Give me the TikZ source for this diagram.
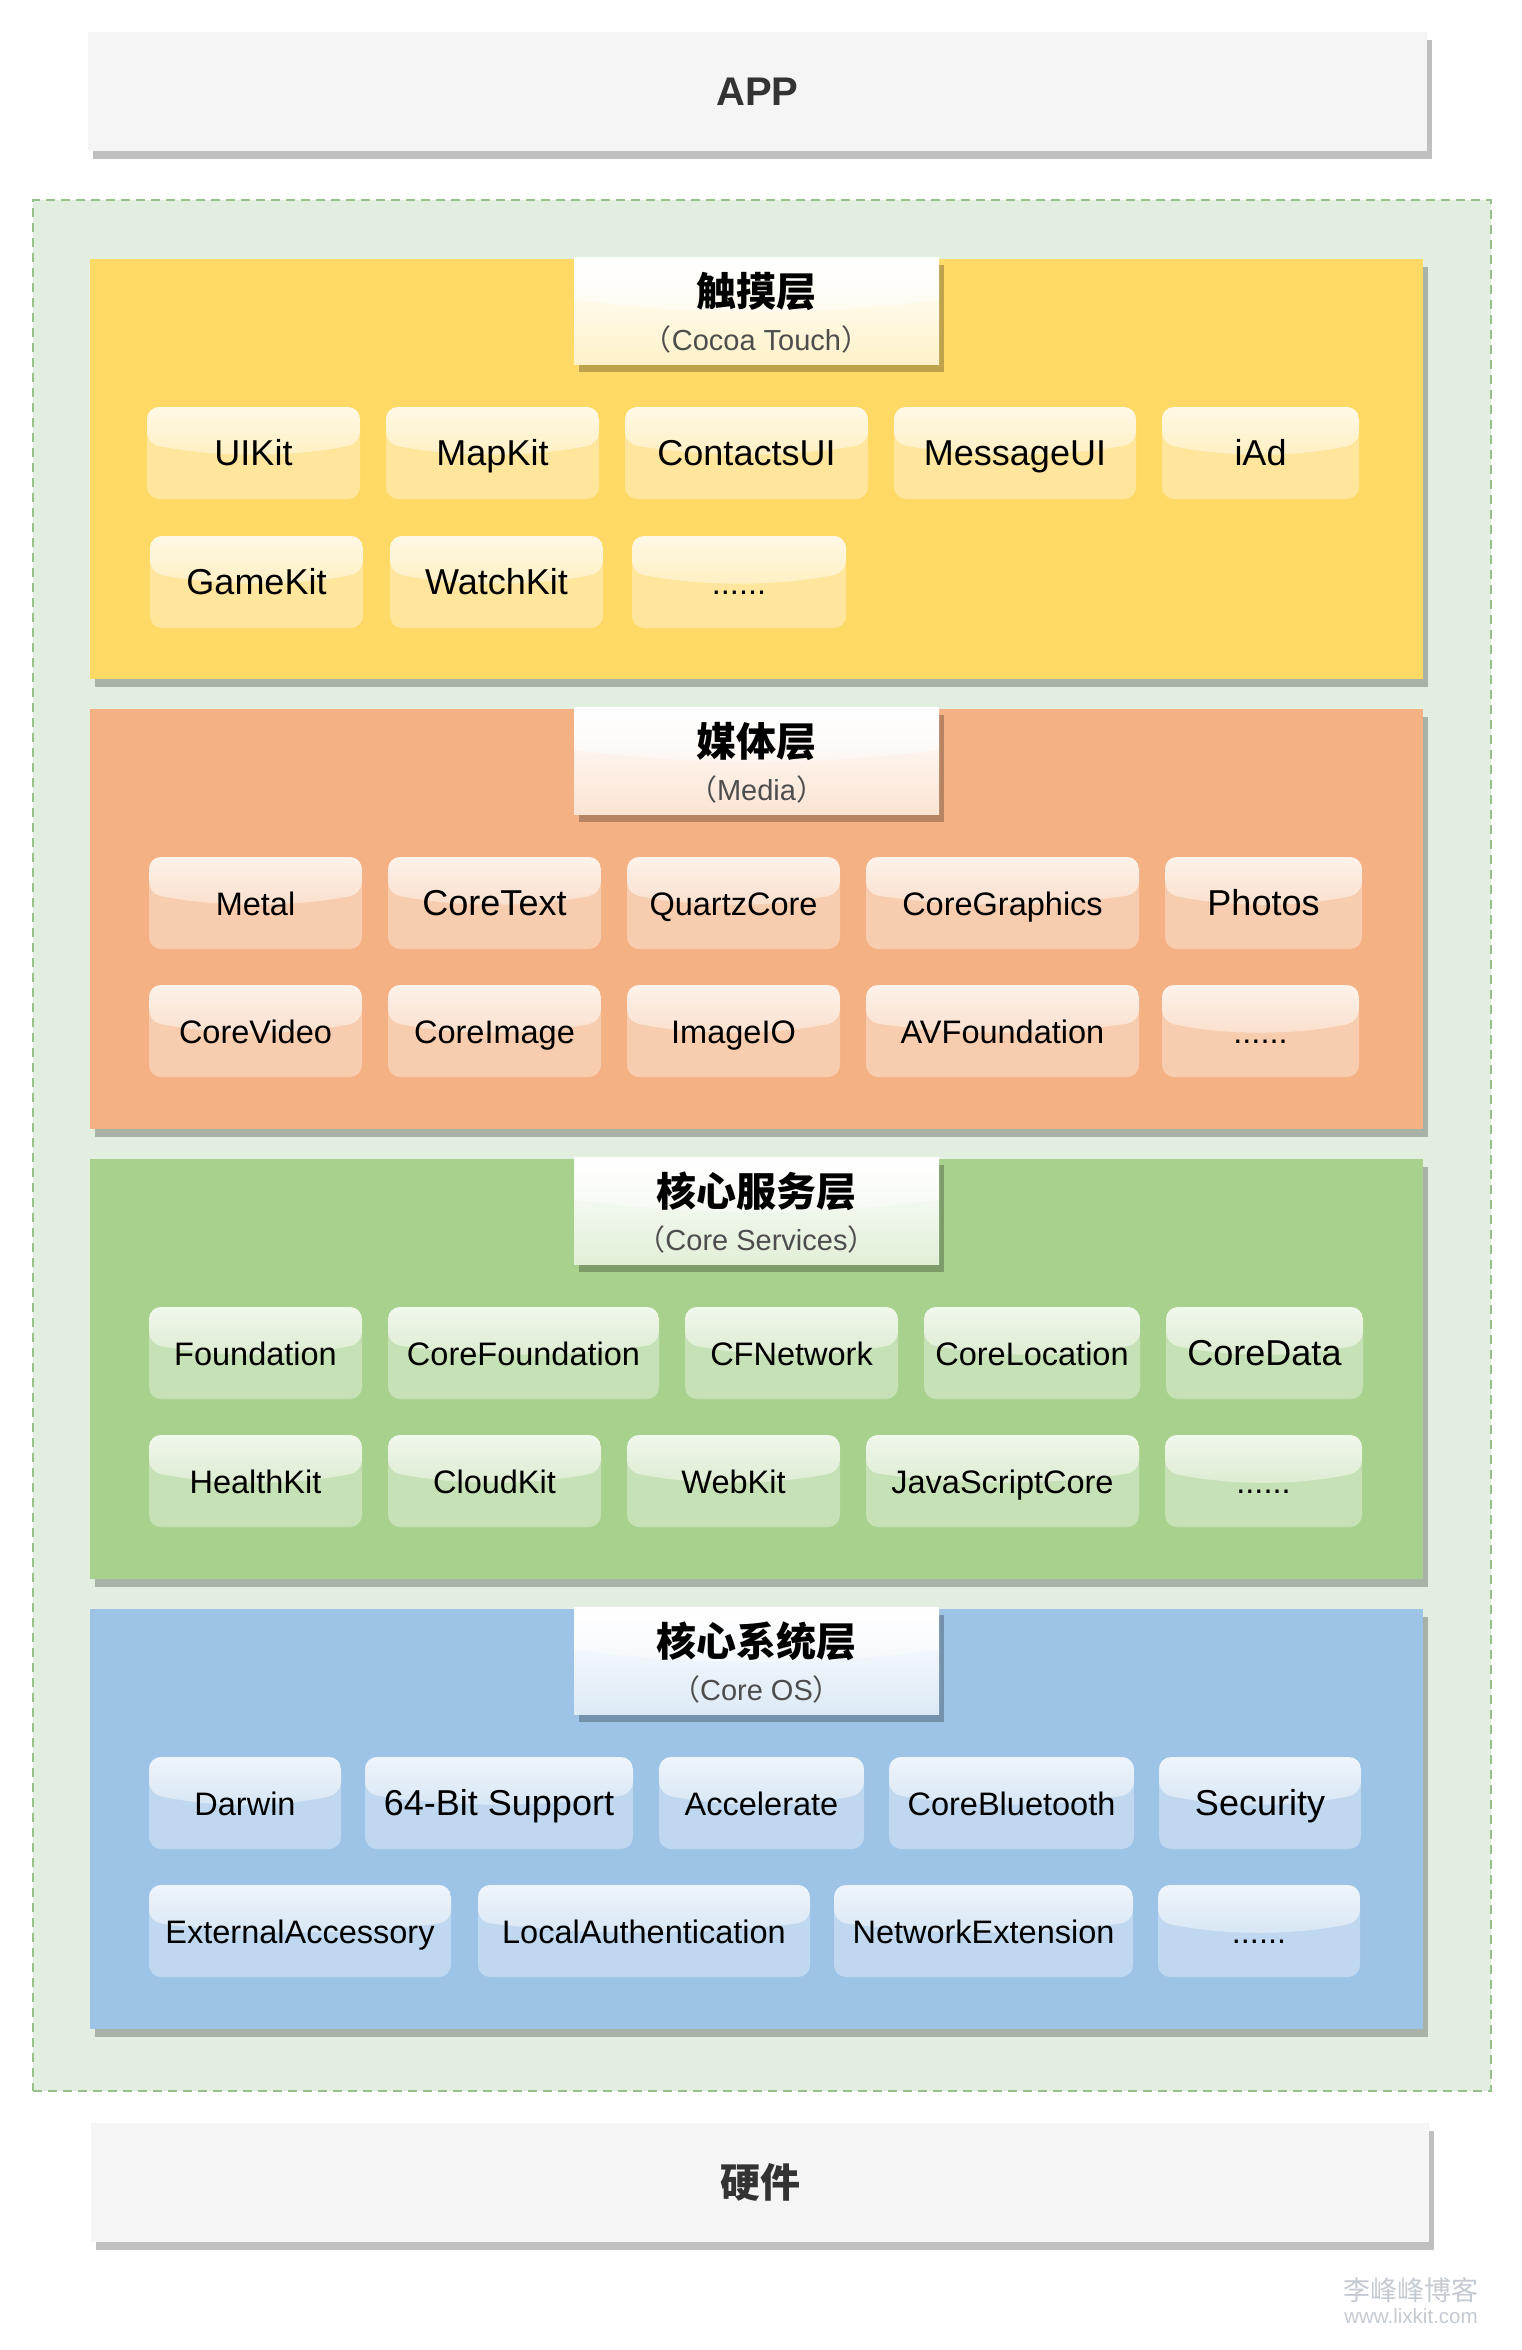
\documentclass[tikz,border=0pt]{standalone}
\usepackage{fontspec}
\setmainfont{Liberation Sans}
\newfontfamily\cjk{Noto Sans CJK SC}
\usepackage{tikz}
\usetikzlibrary{positioning,shadows,fadings,calc}

\definecolor{touchc}{HTML}{FFD966}
\definecolor{mediac}{HTML}{F4B183}
\definecolor{servc}{HTML}{A9D18E}
\definecolor{osc}{HTML}{9DC3E6}
\definecolor{groupc}{HTML}{E2EEE0}
\definecolor{groupline}{HTML}{97C18A}
\definecolor{boxc}{HTML}{F5F5F5}
\definecolor{textc}{HTML}{333333}
\definecolor{subc}{HTML}{4D4D4D}
\definecolor{markc}{HTML}{C4CAD2}

\newcommand{\kitfont}{\fontsize{32.5}{38}\selectfont}
\newcommand{\bigkitfont}{\fontsize{36}{42}\selectfont}
\newcommand{\namefont}{\cjk\bfseries\fontsize{40}{46}\selectfont}
\newcommand{\subfont}{\fontsize{29}{34}\selectfont}

\tikzfading[name=glossfade, top color=transparent!25, bottom color=transparent!92]
\tikzset{
  gloss/.style={path picture={
    \fill[white, path fading=glossfade]
      let \p1=(path picture bounding box.north west),
          \p2=(path picture bounding box.south east) in
      (\x1,\y1) -- (\x1,{\y1+0.4*(\y2-\y1)})
      .. controls ({\x1+(\x2-\x1)/3},{\y1+0.55*(\y2-\y1)}) and ({\x2-(\x2-\x1)/3},{\y1+0.55*(\y2-\y1)}) .. (\x2,{\y1+0.4*(\y2-\y1)})
      -- (\x2,\y1) -- cycle;}},
  shadowed/.style={drop shadow={shadow xshift=5pt, shadow yshift=-8pt, opacity=.25, fill=black}}
}

\begin{document}
\begin{tikzpicture}[x=1pt, y=-1pt,
    plain/.style={fill=boxc, shadowed, anchor=north west, inner sep=0pt, outer sep=0pt,
      minimum width=1339pt, minimum height=119pt, text=textc},
    group/.style={fill=groupc, draw=groupline, line width=2pt, dash pattern=on 9pt off 6pt,
      anchor=north west, minimum width=1458pt, minimum height=1891pt, inner sep=0pt},
    layer/.style={fill=#1, shadowed, anchor=north west, inner sep=0pt, outer sep=0pt,
      minimum width=1333pt, minimum height=420pt},
    tbox/.style={shade, top color=white, bottom color=#1!35!white, gloss, shadowed,
      inner sep=0pt, outer sep=0pt, minimum width=365pt, minimum height=107pt},
    tname/.style={font=\namefont, inner sep=0pt, anchor=base},
    tsub/.style={font=\subfont, text=subc, inner sep=0pt, anchor=base},
    kit/.style={fill=#1!65!white, rounded corners=12pt, gloss, inner sep=0pt, outer sep=0pt,
      minimum height=92pt, text height=30pt, text depth=6pt, font=\kitfont},
    bigkit/.style={font=\bigkitfont}]
\useasboundingbox (0,0) rectangle (1521,2350);

\node[plain, font=\fontsize{40}{46}\selectfont\bfseries] (app) at (88,32) {APP};
\node[group] (ios) at (32,199) {};

% layers
\node[layer=touchc] (touch) at (90,259) {};
\node[layer=mediac, below=30pt of touch] (media) {};
\node[layer=servc, below=30pt of media] (serv) {};
\node[layer=osc, below=30pt of serv] (os) {};

% layer titles
\node[tbox=touchc, below=-2pt of touch.north] (touchT) {};
\node[tname] (touchN) at ([yshift=-49pt]touchT.north) {触摸层};
\node[tsub] (touchS) at ([yshift=-93pt]touchT.north) {{\cjk （}Cocoa Touch{\cjk ）}};
\node[tbox=mediac, below=-2pt of media.north] (mediaT) {};
\node[tname] (mediaN) at ([yshift=-49pt]mediaT.north) {媒体层};
\node[tsub] (mediaS) at ([yshift=-93pt]mediaT.north) {{\cjk （}Media{\cjk ）}};
\node[tbox=servc, below=-2pt of serv.north] (servT) {};
\node[tname] (servN) at ([yshift=-49pt]servT.north) {核心服务层};
\node[tsub] (servS) at ([yshift=-93pt]servT.north) {{\cjk （}Core Services{\cjk ）}};
\node[tbox=osc, below=-2pt of os.north] (osT) {};
\node[tname] (osN) at ([yshift=-49pt]osT.north) {核心系统层};
\node[tsub] (osS) at ([yshift=-93pt]osT.north) {{\cjk （}Core OS{\cjk ）}};

% cocoa touch
\node[kit=touchc, bigkit, minimum width=213pt, below right=148pt and 57pt of touch.north west] (uikit) {UIKit};
\node[kit=touchc, bigkit, minimum width=213pt, right=26pt of uikit] (mapkit) {MapKit};
\node[kit=touchc, bigkit, minimum width=243pt, right=26pt of mapkit] (contactsui) {ContactsUI};
\node[kit=touchc, bigkit, minimum width=242pt, right=26pt of contactsui] (messageui) {MessageUI};
\node[kit=touchc, bigkit, minimum width=197pt, right=26pt of messageui] (iad) {iAd};
\node[kit=touchc, bigkit, minimum width=213pt, below right=277pt and 60pt of touch.north west] (gamekit) {GameKit};
\node[kit=touchc, bigkit, minimum width=213pt, right=27pt of gamekit] (watchkit) {WatchKit};
\node[kit=touchc, minimum width=214pt, right=29pt of watchkit] (touchmore) {......};

% media
\node[kit=mediac, minimum width=213pt, below right=148pt and 59pt of media.north west] (metal) {Metal};
\node[kit=mediac, bigkit, minimum width=213pt, right=26pt of metal] (coretext) {CoreText};
\node[kit=mediac, minimum width=213pt, right=26pt of coretext] (quartzcore) {QuartzCore};
\node[kit=mediac, minimum width=273pt, right=26pt of quartzcore] (coregraphics) {CoreGraphics};
\node[kit=mediac, bigkit, minimum width=197pt, right=26pt of coregraphics] (photos) {Photos};
\node[kit=mediac, minimum width=213pt, below right=276pt and 59pt of media.north west] (corevideo) {CoreVideo};
\node[kit=mediac, minimum width=213pt, right=26pt of corevideo] (coreimage) {CoreImage};
\node[kit=mediac, minimum width=213pt, right=26pt of coreimage] (imageio) {ImageIO};
\node[kit=mediac, minimum width=273pt, right=26pt of imageio] (avfoundation) {AVFoundation};
\node[kit=mediac, minimum width=197pt, right=23pt of avfoundation] (mediamore) {......};

% core services
\node[kit=servc, minimum width=213pt, below right=148pt and 59pt of serv.north west] (foundation) {Foundation};
\node[kit=servc, minimum width=271pt, right=26pt of foundation] (corefoundation) {CoreFoundation};
\node[kit=servc, minimum width=213pt, right=26pt of corefoundation] (cfnetwork) {CFNetwork};
\node[kit=servc, minimum width=216pt, right=26pt of cfnetwork] (corelocation) {CoreLocation};
\node[kit=servc, bigkit, minimum width=197pt, right=26pt of corelocation] (coredata) {CoreData};
\node[kit=servc, minimum width=213pt, below right=276pt and 59pt of serv.north west] (healthkit) {HealthKit};
\node[kit=servc, minimum width=213pt, right=26pt of healthkit] (cloudkit) {CloudKit};
\node[kit=servc, minimum width=213pt, right=26pt of cloudkit] (webkit) {WebKit};
\node[kit=servc, minimum width=273pt, right=26pt of webkit] (jscore) {JavaScriptCore};
\node[kit=servc, minimum width=197pt, right=26pt of jscore] (servmore) {......};

% core os
\node[kit=osc, minimum width=192pt, below right=148pt and 59pt of os.north west] (darwin) {Darwin};
\node[kit=osc, bigkit, minimum width=268pt, right=24pt of darwin] (bitsupport) {64-Bit Support};
\node[kit=osc, minimum width=205pt, right=26pt of bitsupport] (accelerate) {Accelerate};
\node[kit=osc, minimum width=245pt, right=25pt of accelerate] (corebluetooth) {CoreBluetooth};
\node[kit=osc, bigkit, minimum width=202pt, right=25pt of corebluetooth] (security) {Security};
\node[kit=osc, minimum width=302pt, below right=276pt and 59pt of os.north west] (extaccessory) {ExternalAccessory};
\node[kit=osc, minimum width=332pt, right=27pt of extaccessory] (localauth) {LocalAuthentication};
\node[kit=osc, minimum width=299pt, right=24pt of localauth] (netextension) {NetworkExtension};
\node[kit=osc, minimum width=202pt, right=25pt of netextension] (osmore) {......};

\node[plain, minimum width=1338pt, font=\cjk\bfseries\fontsize{40}{46}\selectfont] (hw) at (91,2123) {硬件};

% watermark
\node[text=markc, font=\cjk\fontsize{27}{30}\selectfont, inner sep=0pt] (wmark) at (1411,2290) {李峰峰博客};
\node[text=markc, font=\fontsize{20.5}{24}\selectfont, inner sep=0pt, below=6pt of wmark] (wurl) {www.lixkit.com};
\end{tikzpicture}
\end{document}
